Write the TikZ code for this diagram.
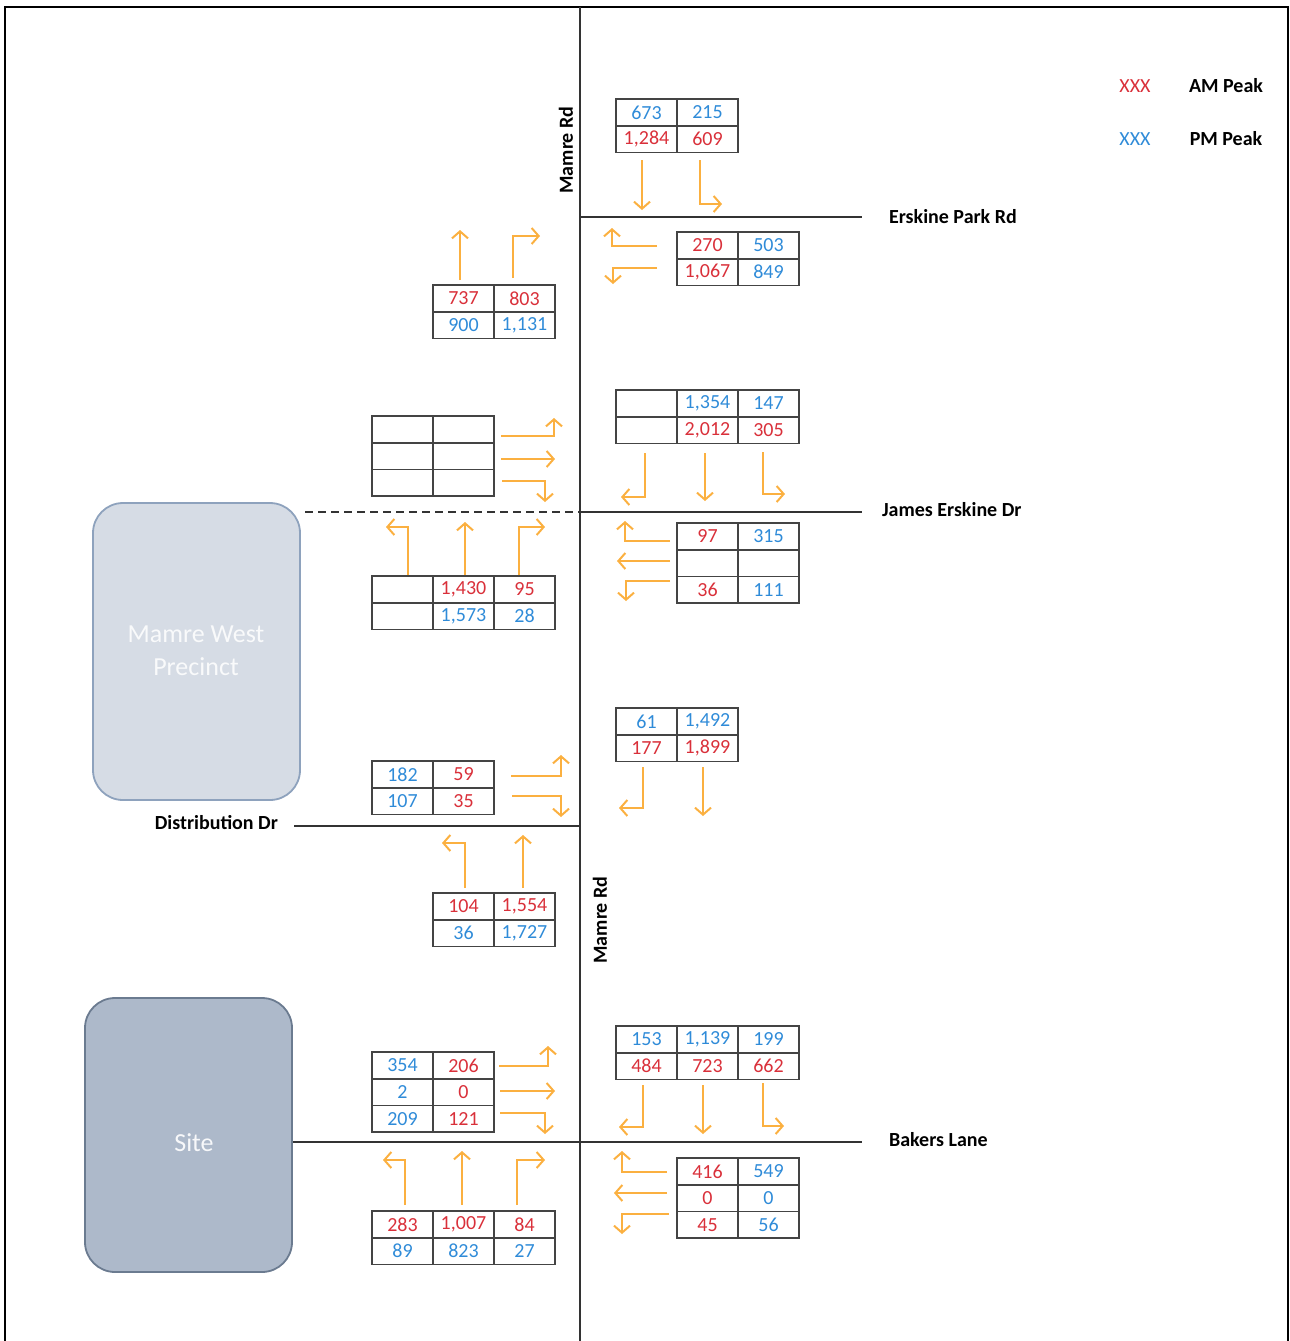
\documentclass[tikz,border=0pt]{standalone}
\usepackage{fontspec}
\setmainfont{Carlito}
\usetikzlibrary{arrows.meta}
\definecolor{amred}{HTML}{D9303A}
\definecolor{pmblue}{HTML}{2F8BD8}
\definecolor{turnorange}{HTML}{FBB040}
\definecolor{roadgrey}{HTML}{333333}
\definecolor{cellgrey}{HTML}{444444}
\definecolor{westfill}{HTML}{D6DCE5}
\definecolor{westline}{HTML}{8EA2BD}
\definecolor{sitefill}{HTML}{ADB9CA}
\definecolor{siteline}{HTML}{6B7B90}
% one cell of a count table: name, column, row, colour style, count
\newcommand{\tcell}[5]{\draw[tabline] ({#2*61},{#3*26.7}) rectangle ++(61,26.7);
	\node[#4] (#1) at ({#2*61+30.5},{#3*26.7+13.35}) {#5}}
\tikzset{
	tabline/.style={cellgrey,line width=0.8pt},
	amtxt/.style={text=amred,font=\fontsize{10}{12}\selectfont},
	pmtxt/.style={text=pmblue,font=\fontsize{10}{12}\selectfont},
	mv/.style={turnorange,line width=1pt,-{Straight Barb[length=3.5pt,width=8pt]}},
	road/.style={roadgrey,line width=1.1pt},
	roadname/.style={font=\bfseries\fontsize{10}{12}\selectfont},
	precinct/.style={rounded corners=15pt,line width=0.9pt}
}

\begin{document}
\begin{tikzpicture}[x=0.5pt,y=-0.5pt]
	\useasboundingbox (0,0) rectangle (1290,1341);
	\draw[line width=1.2pt] (5,1341) -- (5,7) -- (1288,7) -- (1288,1341);
	% roads
		\draw[road] (580,7) -- (580,1341);
		\draw[road] (580,217) -- (862,217);
		\draw[road] (580,512) -- (862,512);
		\draw[road,dashed,dash pattern=on 4pt off 2.5pt] (305,512) -- (580,512);
		\draw[road] (294,826) -- (580,826);
		\draw[road] (293,1142) -- (862,1142);
			\node[roadname,rotate=90] (mamreN) at (566,150) {Mamre Rd};
			\node[roadname,rotate=90] (mamreS) at (600,920) {Mamre Rd};
			\node[roadname,anchor=west] (erskine) at (882,217) {Erskine Park Rd};
			\node[roadname,anchor=west] (james) at (875,510) {James Erskine Dr};
			\node[roadname,anchor=east] (distrib) at (285,823) {Distribution Dr};
			\node[roadname,anchor=west] (bakers) at (882,1140) {Bakers Lane};
	% land parcels
		\draw[precinct,draw=westline,fill=westfill] (93,503) rectangle (300,800);
		\node[text=white!85!westfill,font=\fontsize{13}{16.5}\selectfont,align=center]
			(westp) at (196,651) {Mamre West\\Precinct};
		\draw[precinct,draw=siteline,fill=sitefill] (85,998) rectangle (292,1272);
		\node[text=white!90!sitefill,font=\fontsize{13}{16}\selectfont] (site) at (194,1143) {Site};
	% legend
		\node[amtxt] (amkey) at (1135,86) {XXX};
		\node[roadname] (amlab) at (1226,86) {AM Peak};
		\node[pmtxt] (pmkey) at (1135,139) {XXX};
		\node[roadname] (pmlab) at (1226,139) {PM Peak};
	% Erskine Park Rd
		\begin{scope}[shift={(616,99)}]
			\tcell{epn11}{0}{0}{pmtxt}{673};	\tcell{epn12}{1}{0}{pmtxt}{215};
			\tcell{epn21}{0}{1}{amtxt}{1,284};	\tcell{epn22}{1}{1}{amtxt}{609};
		\end{scope}
		\begin{scope}[shift={(677,232)}]
			\tcell{epe11}{0}{0}{amtxt}{270};	\tcell{epe12}{1}{0}{pmtxt}{503};
			\tcell{epe21}{0}{1}{amtxt}{1,067};	\tcell{epe22}{1}{1}{pmtxt}{849};
		\end{scope}
		\begin{scope}[shift={(433,285)}]
			\tcell{eps11}{0}{0}{amtxt}{737};	\tcell{eps12}{1}{0}{amtxt}{803};
			\tcell{eps21}{0}{1}{pmtxt}{900};	\tcell{eps22}{1}{1}{pmtxt}{1,131};
		\end{scope}
			\draw[mv] (642,160) -- (642,210);
			\draw[mv] (700,160) -- (700,204) -- (722,204);
			\draw[mv] (657,246) -- (612,246) -- (612,228);
			\draw[mv] (657,268) -- (613,268) -- (613,284);
			\draw[mv] (460,280) -- (460,230);
			\draw[mv] (513,278) -- (513,236) -- (540,236);
	% James Erskine Dr
		\begin{scope}[shift={(372,416)}]
			\tcell{jew11}{0}{0}{amtxt}{};	\tcell{jew12}{1}{0}{amtxt}{};
			\tcell{jew21}{0}{1}{amtxt}{};	\tcell{jew22}{1}{1}{amtxt}{};
			\tcell{jew31}{0}{2}{amtxt}{};	\tcell{jew32}{1}{2}{amtxt}{};
		\end{scope}
		\begin{scope}[shift={(616,390)}]
			\tcell{jen11}{0}{0}{pmtxt}{};	\tcell{jen12}{1}{0}{pmtxt}{1,354};	\tcell{jen13}{2}{0}{pmtxt}{147};
			\tcell{jen21}{0}{1}{amtxt}{};	\tcell{jen22}{1}{1}{amtxt}{2,012};	\tcell{jen23}{2}{1}{amtxt}{305};
		\end{scope}
		\begin{scope}[shift={(677,523)}]
			\tcell{jee11}{0}{0}{amtxt}{97};	\tcell{jee12}{1}{0}{pmtxt}{315};
			\tcell{jee21}{0}{1}{amtxt}{};	\tcell{jee22}{1}{1}{pmtxt}{};
			\tcell{jee31}{0}{2}{amtxt}{36};	\tcell{jee32}{1}{2}{pmtxt}{111};
		\end{scope}
		\begin{scope}[shift={(372,576)}]
			\tcell{jes11}{0}{0}{amtxt}{};	\tcell{jes12}{1}{0}{amtxt}{1,430};	\tcell{jes13}{2}{0}{amtxt}{95};
			\tcell{jes21}{0}{1}{pmtxt}{};	\tcell{jes22}{1}{1}{pmtxt}{1,573};	\tcell{jes23}{2}{1}{pmtxt}{28};
		\end{scope}
			\draw[mv] (501,436) -- (554,436) -- (554,418);
			\draw[mv] (501,459) -- (555,459);
			\draw[mv] (502,481) -- (545,481) -- (545,502);
			\draw[mv] (645,453) -- (645,497) -- (621,497);
			\draw[mv] (705,453) -- (705,501);
			\draw[mv] (763,452) -- (763,494) -- (785,494);
			\draw[mv] (670,541) -- (625,541) -- (625,521);
			\draw[mv] (670,561) -- (617,561);
			\draw[mv] (670,581) -- (626,581) -- (626,601);
			\draw[mv] (408,575) -- (408,527) -- (386,527);
			\draw[mv] (465,575) -- (465,522);
			\draw[mv] (519,575) -- (519,527) -- (545,527);
	% Distribution Dr
		\begin{scope}[shift={(616,708)}]
			\tcell{ddn11}{0}{0}{pmtxt}{61};	\tcell{ddn12}{1}{0}{pmtxt}{1,492};
			\tcell{ddn21}{0}{1}{amtxt}{177};	\tcell{ddn22}{1}{1}{amtxt}{1,899};
		\end{scope}
		\begin{scope}[shift={(372,761)}]
			\tcell{ddw11}{0}{0}{pmtxt}{182};	\tcell{ddw12}{1}{0}{amtxt}{59};
			\tcell{ddw21}{0}{1}{pmtxt}{107};	\tcell{ddw22}{1}{1}{amtxt}{35};
		\end{scope}
		\begin{scope}[shift={(433,893)}]
			\tcell{dds11}{0}{0}{amtxt}{104};	\tcell{dds12}{1}{0}{amtxt}{1,554};
			\tcell{dds21}{0}{1}{pmtxt}{36};	\tcell{dds22}{1}{1}{pmtxt}{1,727};
		\end{scope}
			\draw[mv] (643,767) -- (643,808) -- (619,808);
			\draw[mv] (703,767) -- (703,816);
			\draw[mv] (511,776) -- (561,776) -- (561,755);
			\draw[mv] (512,796) -- (561,796) -- (561,817);
			\draw[mv] (465,888) -- (465,843) -- (442,843);
			\draw[mv] (523,888) -- (523,835);
	% Bakers Lane
		\begin{scope}[shift={(616,1026)}]
			\tcell{bln11}{0}{0}{pmtxt}{153};	\tcell{bln12}{1}{0}{pmtxt}{1,139};	\tcell{bln13}{2}{0}{pmtxt}{199};
			\tcell{bln21}{0}{1}{amtxt}{484};	\tcell{bln22}{1}{1}{amtxt}{723};	\tcell{bln23}{2}{1}{amtxt}{662};
		\end{scope}
		\begin{scope}[shift={(372,1052)}]
			\tcell{blw11}{0}{0}{pmtxt}{354};	\tcell{blw12}{1}{0}{amtxt}{206};
			\tcell{blw21}{0}{1}{pmtxt}{2};	\tcell{blw22}{1}{1}{amtxt}{0};
			\tcell{blw31}{0}{2}{pmtxt}{209};	\tcell{blw32}{1}{2}{amtxt}{121};
		\end{scope}
		\begin{scope}[shift={(677,1158)}]
			\tcell{ble11}{0}{0}{amtxt}{416};	\tcell{ble12}{1}{0}{pmtxt}{549};
			\tcell{ble21}{0}{1}{amtxt}{0};	\tcell{ble22}{1}{1}{pmtxt}{0};
			\tcell{ble31}{0}{2}{amtxt}{45};	\tcell{ble32}{1}{2}{pmtxt}{56};
		\end{scope}
		\begin{scope}[shift={(372,1211)}]
			\tcell{bls11}{0}{0}{amtxt}{283};	\tcell{bls12}{1}{0}{amtxt}{1,007};	\tcell{bls13}{2}{0}{amtxt}{84};
			\tcell{bls21}{0}{1}{pmtxt}{89};	\tcell{bls22}{1}{1}{pmtxt}{823};	\tcell{bls23}{2}{1}{pmtxt}{27};
		\end{scope}
			\draw[mv] (643,1085) -- (643,1127) -- (619,1127);
			\draw[mv] (703,1085) -- (703,1134);
			\draw[mv] (763,1083) -- (763,1126) -- (784,1126);
			\draw[mv] (499,1066) -- (548,1066) -- (548,1046);
			\draw[mv] (500,1091) -- (555,1091);
			\draw[mv] (500,1113) -- (545,1113) -- (545,1134);
			\draw[mv] (667,1172) -- (622,1172) -- (622,1151);
			\draw[mv] (667,1193) -- (614,1193);
			\draw[mv] (669,1214) -- (622,1214) -- (622,1234);
			\draw[mv] (405,1205) -- (405,1160) -- (383,1160);
			\draw[mv] (462,1205) -- (462,1151);
			\draw[mv] (517,1205) -- (517,1160) -- (545,1160);
\end{tikzpicture}
\end{document}
